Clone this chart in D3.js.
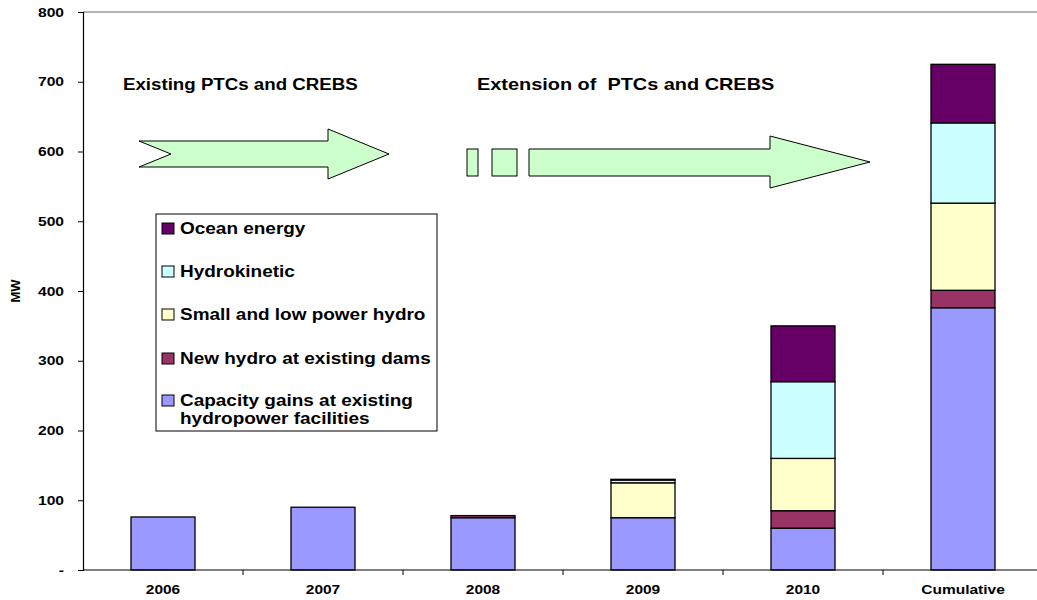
<!DOCTYPE html>
<html>
<head>
<meta charset="utf-8">
<script src="https://cdn.jsdelivr.net/npm/d3@7"></script>
<style>
  body { margin: 0; background: #fff; }
  svg text { font-family: "Liberation Sans", Arial, sans-serif; font-weight: bold; fill: #000; }
</style>
</head>
<body>
<svg id="chart"></svg>
<script>
// Data
const categories = ["2006", "2007", "2008", "2009", "2010", "Cumulative"];
const capacityGains = [76, 90, 75, 75, 60, 376];
const newHydroDams = [0, 0, 3, 0, 25, 25];
const smallLowHydro = [0, 0, 0, 50, 75, 125];
const hydrokinetic = [0, 0, 0, 4, 110, 115];
const oceanEnergy = [0, 0, 0, 1, 80, 84];
const yTicks = [0, 100, 200, 300, 400, 500, 600, 700, 800];

const seriesNames = [
  "Capacity gains at existing hydropower facilities",
  "New hydro at existing dams",
  "Small and low power hydro",
  "Hydrokinetic",
  "Ocean energy"
];
const seriesKeys = ["cap", "dam", "small", "kin", "ocean"];
const seriesColors = ["#9999ff", "#993366", "#ffffcc", "#ccffff", "#660066"];

// table for d3.stack
const table = categories.map((c, i) => ({
  cat: c,
  cap: capacityGains[i],
  dam: newHydroDams[i],
  small: smallLowHydro[i],
  kin: hydrokinetic[i],
  ocean: oceanEnergy[i]
}));

const width = 1037;
const height = 600;
const margin = { top: 12, right: -6, bottom: 30, left: 83 };

const svg = d3.select("#chart")
              .attr("width", width)
              .attr("height", height);

// the original text is a bit wider than Arial, stretch it sideways
function wideText(parent, x, y, size, sx, anchor) {
  return parent.append("g")
    .attr("transform", `translate(${x},${y}) scale(${sx},1)`)
    .append("text")
      .attr("text-anchor", anchor || "start")
      .style("font-size", size + "px");
}

const x = d3.scaleBand()
            .domain(categories)
            .range([margin.left, width - margin.right])
            .paddingInner(0.6)
            .paddingOuter(0.3);

const y = d3.scaleLinear()
            .domain([0, 800])
            .range([height - margin.bottom, margin.top]);

// top border of plot area
svg.append("line")
   .attr("x1", margin.left).attr("x2", width)
   .attr("y1", y(800)).attr("y2", y(800))
   .attr("stroke", "#666").attr("stroke-width", 1);

// stacked bars
const stack = d3.stack().keys(seriesKeys);
const layers = stack(table);

svg.append("g")
   .selectAll("g")
   .data(layers)
   .join("g")
     .attr("fill", (d, i) => seriesColors[i])
   .selectAll("rect")
   .data(d => d.filter(p => p[1] - p[0] > 0))
   .join("rect")
     .attr("x", d => x(d.data.cat))
     .attr("width", x.bandwidth())
     .attr("y", d => y(d[1]))
     .attr("height", d => y(d[0]) - y(d[1]))
     .attr("stroke", "#000")
     .attr("stroke-width", 1.3);

// y axis
const yAxis = d3.axisLeft(y)
                .tickValues(yTicks)
                .tickSize(5)
                .tickFormat("");
const gy = svg.append("g")
   .attr("transform", `translate(${margin.left},0)`)
   .call(yAxis);
gy.select(".domain").attr("stroke", "#000").attr("stroke-width", 1.2);
gy.selectAll(".tick line").attr("stroke", "#000");
yTicks.forEach(v => {
  wideText(svg, 64, y(v) + 4.5, 12.5, 1.25, "end").text(v === 0 ? "-" : v);
});

// x axis: ticks at band boundaries
const boundaries = categories.map(c => x(c) - x.step() * x.paddingInner() / 2);
const gx = svg.append("g");
gx.append("line")
  .attr("x1", margin.left).attr("x2", width)
  .attr("y1", y(0)).attr("y2", y(0))
  .attr("stroke", "#000").attr("stroke-width", 1.2);
gx.selectAll("line.tk")
  .data(boundaries.slice(1))
  .join("line")
    .attr("class", "tk")
    .attr("x1", d => d).attr("x2", d => d)
    .attr("y1", y(0)).attr("y2", y(0) + 5)
    .attr("stroke", "#000");
categories.forEach(c => {
  wideText(gx, x(c) + x.bandwidth() / 2, y(0) + 24, 12.5, 1.24, "middle").text(c);
});

// y title
svg.append("text")
   .attr("transform", `translate(20,${(y(0) + y(800)) / 2}) rotate(-90)`)
   .attr("text-anchor", "middle")
   .style("font-size", "13px")
   .text("MW");

// annotations
wideText(svg, 123, 90, 17, 1.1).text("Existing PTCs and CREBS");
wideText(svg, 477, 90, 17, 1.17)
   .attr("xml:space", "preserve").style("white-space", "pre")
   .text("Extension of  PTCs and CREBS");

const arrowStyle = g => g.attr("fill", "#ccffcc").attr("stroke", "#000").attr("stroke-width", 1);

svg.append("polygon")
   .attr("points", [[139,141],[328,141],[328,129],[389,154],[328,179],[328,167],[139,167],[171,154]].join(" "))
   .call(arrowStyle);

svg.append("rect").attr("x", 467).attr("y", 149).attr("width", 11).attr("height", 27).call(arrowStyle);
svg.append("rect").attr("x", 492).attr("y", 149).attr("width", 25).attr("height", 27).call(arrowStyle);
svg.append("polygon")
   .attr("points", [[529,149],[770,149],[770,136],[870,162],[770,188],[770,176],[529,176]].join(" "))
   .call(arrowStyle);

// legend
const legend = svg.append("g");
legend.append("rect")
  .attr("x", 156).attr("y", 214).attr("width", 281).attr("height", 217)
  .attr("fill", "#fff").attr("stroke", "#000").attr("stroke-width", 1);

const legendItems = [
  { i: 4, lines: ["Ocean energy"], y: 234 },
  { i: 3, lines: ["Hydrokinetic"], y: 277 },
  { i: 2, lines: ["Small and low power hydro"], y: 320 },
  { i: 1, lines: ["New hydro at existing dams"], y: 364 },
  { i: 0, lines: ["Capacity gains at existing", "hydropower facilities"], y: 406 }
];
legendItems.forEach(it => {
  legend.append("rect")
    .attr("x", 162).attr("y", it.y - 11).attr("width", 12).attr("height", 11)
    .attr("fill", seriesColors[it.i]).attr("stroke", "#000").attr("stroke-width", 1);
  it.lines.forEach((l, k) => {
    wideText(legend, 180, it.y + k * 18, 16.5, 1.15).text(l);
  });
});
</script>
</body>
</html>
